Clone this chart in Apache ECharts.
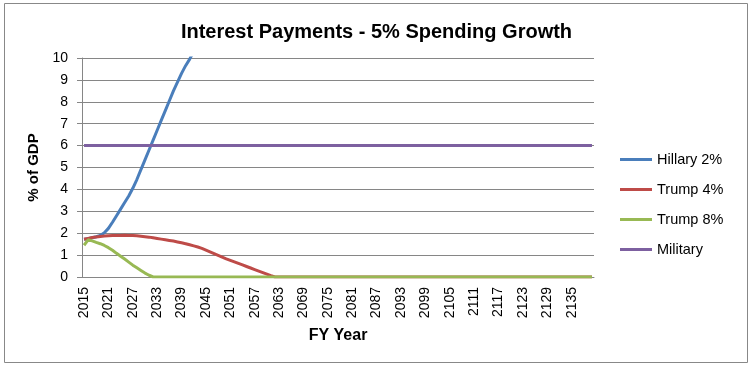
<!DOCTYPE html>
<html><head><meta charset="utf-8">
<script src="https://cdn.jsdelivr.net/npm/echarts@6/dist/echarts.min.js"></script>
<style>html,body{margin:0;padding:0;background:#fff}#c{width:753px;height:368px}</style>
</head><body><div id="c"></div>
<script>
const startYear = 2015, endYear = 2140;
const years = [];
for (let y = startYear; y <= endYear; y++) years.push(String(y));

const hillary = [1.72,1.75,1.79,1.84,1.90,2.02,2.22,2.5,2.8,3.1,3.4,3.7,4.05,4.45,4.9,5.35,5.8,6.25,6.7,7.15,7.6,8.05,8.5,8.9,9.3,9.65,9.95,10.3];
const trump4 = [1.72,1.76,1.80,1.83,1.85,1.87,1.88,1.89,1.90,1.90,1.91,1.90,1.89,1.88,1.86,1.84,1.82,1.79,1.76,1.73,1.70,1.67,1.64,1.60,1.56,1.52,1.47,1.42,1.37,1.31,1.23,1.15,1.07,0.99,0.91,0.83,0.76,0.69,0.62,0.55,0.48,0.41,0.34,0.27,0.20,0.13,0.06,0];
const trump8 = [1.45,1.70,1.65,1.58,1.52,1.44,1.34,1.22,1.08,0.95,0.82,0.68,0.54,0.42,0.30,0.18,0.08,0];
const military = [6];

function pad(arr, fill) {
  return years.map((_, i) => i < arr.length ? arr[i] : fill);
}
const hillaryData = pad(hillary, null);
const trump4Data = pad(trump4, 0);
const trump8Data = pad(trump8, 0);
const militaryData = years.map(() => military[0]);

const chart = echarts.init(document.getElementById('c'));
const font = 'Liberation Sans, Arial, sans-serif';
function mk(name, data, color) {
  return {name, type:'line', data, symbol:'none', clip:true,
    lineStyle:{color, width:3}, itemStyle:{color}, animation:false};
}
chart.setOption({
  animation:false,
  graphic:[{type:'rect', shape:{x:4.5,y:3.5,width:743,height:359}, style:{fill:'none', stroke:'#888', lineWidth:1}, silent:true}],
  title:{text:'Interest Payments - 5% Spending Growth', left:'center', top:17,
    textStyle:{fontFamily:font, fontSize:20, fontWeight:'bold', color:'#000'}},
  legend:{orient:'vertical', left:615, top:147, itemWidth:32, itemHeight:3, itemGap:15, icon:'rect',
    textStyle:{fontFamily:font, fontSize:14.5, color:'#000'},
    data:['Hillary 2%','Trump 4%','Trump 8%','Military']},
  grid:{left:82, right:159, top:58, bottom:91},
  xAxis:{type:'category', data:years, boundaryGap:true,
    name:'FY Year', nameLocation:'middle', nameGap:51,
    nameTextStyle:{fontFamily:font, fontSize:16, fontWeight:'bold', color:'#000'},
    axisLine:{lineStyle:{color:'#868686'}},
    axisTick:{interval:0, length:5, lineStyle:{color:'#868686'}},
    axisLabel:{interval:5, rotate:90, fontFamily:font, fontSize:14, color:'#000', margin:10}},
  yAxis:{type:'value', min:0, max:10, interval:1,
    name:'% of GDP', nameLocation:'middle', nameGap:40,
    nameTextStyle:{fontFamily:font, fontSize:15, fontWeight:'bold', color:'#000'},
    axisLine:{show:true, lineStyle:{color:'#868686'}},
    axisTick:{show:true, length:5, lineStyle:{color:'#868686'}},
    splitLine:{lineStyle:{color:'#868686'}},
    axisLabel:{fontFamily:font, fontSize:14, color:'#000', margin:14}},
  series:[
    mk('Hillary 2%', hillaryData, '#4A7EBB'),
    mk('Trump 4%', trump4Data, '#BE4B48'),
    mk('Trump 8%', trump8Data, '#98B954'),
    mk('Military', militaryData, '#7D60A0')
  ]
});
</script></body></html>
